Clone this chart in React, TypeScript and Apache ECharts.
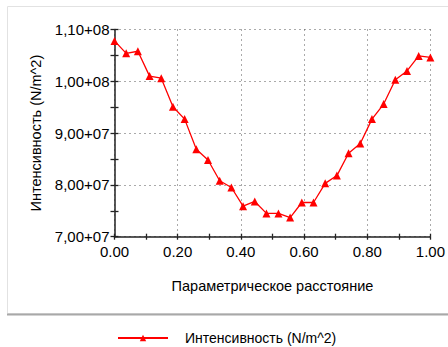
import React, { useEffect, useRef } from "react";
import * as echarts from "echarts";

const distances = [
  0, 0.037, 0.074, 0.111, 0.148, 0.185, 0.222, 0.259, 0.296, 0.333, 0.37, 0.407, 0.444, 0.481,
  0.519, 0.556, 0.593, 0.63, 0.667, 0.704, 0.741, 0.778, 0.815, 0.852, 0.889, 0.926, 0.963, 1.0,
];
const intensity = [
  107.8e6, 105.4e6, 105.8e6, 101.0e6, 100.6e6, 95.1e6, 92.7e6, 86.9e6, 84.8e6, 80.8e6, 79.5e6,
  75.9e6, 76.8e6, 74.5e6, 74.5e6, 73.7e6, 76.6e6, 76.6e6, 80.3e6, 81.8e6, 86.1e6, 88.0e6, 92.7e6,
  95.6e6, 100.3e6, 102.0e6, 104.9e6, 104.6e6,
];
const seriesName = "Интенсивность (N/m^2)";
const xTitle = "Параметрическое расстояние";
const yTitle = "Интенсивность (N/m^2)";

const FONT = "'Liberation Sans', Arial, sans-serif";

function fmtY(v: number): string {
  const exp = Math.floor(Math.log10(v) + 1e-9);
  const m = v / Math.pow(10, exp);
  return m.toFixed(2).replace(".", ",") + "+" + String(exp).padStart(2, "0");
}

export default function App() {
  const ref = useRef<HTMLDivElement>(null);
  useEffect(() => {
    if (!ref.current) return;
    const chart = echarts.init(ref.current, undefined, { renderer: "svg" });
    const tickStyle = { color: "#222", width: 1.3 };
    chart.setOption({
      animation: false,
      backgroundColor: "#fff",
      graphic: [
        {
          type: "rect",
          z: -10,
          shape: { x: 7.5, y: 6.5, width: 445, height: 307 },
          style: { fill: "#fff", stroke: "#e2e2e2", lineWidth: 1 },
        },
        {
          type: "line",
          z: -9,
          shape: { x1: 7, y1: 314.5, x2: 448, y2: 314.5 },
          style: { stroke: "#a8a8a8", lineWidth: 2 },
        },
      ],
      grid: { left: 114.5, right: 16.7, top: 29.5, bottom: 110.3, containLabel: false },
      legend: {
        data: [seriesName],
        left: 112,
        top: 326,
        itemWidth: 50,
        itemHeight: 8,
        textStyle: { fontFamily: FONT, fontSize: 14, color: "#000", padding: [0, 0, 0, 12] },
      },
      xAxis: [
        {
          type: "value",
          min: 0,
          max: 1,
          interval: 0.2,
          position: "bottom",
          name: xTitle,
          nameLocation: "middle",
          nameGap: 42,
          nameTextStyle: { fontFamily: FONT, fontSize: 14.5, color: "#000" },
          axisLine: { show: true, onZero: false, lineStyle: { color: "#222", width: 1.5 } },
          axisTick: { show: true, length: 3, lineStyle: tickStyle },
          minorTick: { show: true, splitNumber: 2, length: 3, lineStyle: tickStyle },
          axisLabel: {
            fontFamily: FONT,
            fontSize: 15,
            color: "#000",
            margin: 7,
            formatter: (v: number) => v.toFixed(2),
          },
          splitLine: { show: true, lineStyle: { color: "#555", width: 1, type: [1, 4] } },
        },
        {
          type: "value",
          min: 0,
          max: 1,
          interval: 0.2,
          position: "bottom",
          offset: 0,
          axisLine: { show: false },
          axisTick: { show: true, inside: true, length: 3, lineStyle: tickStyle },
          minorTick: { show: true, splitNumber: 2, length: 3, lineStyle: tickStyle },
          axisLabel: { show: false },
          splitLine: { show: false },
        },
      ],
      yAxis: [
        {
          type: "value",
          min: 70000000,
          max: 110000000,
          interval: 10000000,
          position: "left",
          name: yTitle,
          nameLocation: "middle",
          nameRotate: 90,
          nameGap: 71,
          nameTextStyle: { fontFamily: FONT, fontSize: 14.5, color: "#000" },
          axisLine: { show: true, onZero: false, lineStyle: { color: "#222", width: 1.5 } },
          axisTick: { show: true, length: 4, lineStyle: tickStyle },
          minorTick: { show: true, splitNumber: 2, length: 4, lineStyle: tickStyle },
          axisLabel: { fontFamily: FONT, fontSize: 15, color: "#000", margin: 5, formatter: fmtY },
          splitLine: { show: true, lineStyle: { color: "#555", width: 1, type: [1, 4] } },
        },
        {
          type: "value",
          min: 70000000,
          max: 110000000,
          interval: 10000000,
          position: "left",
          offset: 0,
          axisLine: { show: false },
          axisTick: { show: true, inside: true, length: 4, lineStyle: tickStyle },
          minorTick: { show: true, splitNumber: 2, length: 4, lineStyle: tickStyle },
          axisLabel: { show: false },
          splitLine: { show: false },
        },
      ],
      series: [
        {
          name: seriesName,
          type: "line",
          xAxisIndex: 0,
          yAxisIndex: 0,
          data: distances.map((d, i) => [d, intensity[i]]),
          symbol: "triangle",
          symbolSize: 8,
          lineStyle: { color: "#ff0000", width: 1.3 },
          itemStyle: { color: "#ff0000" },
          z: 5,
        },
      ],
    });
    return () => chart.dispose();
  }, []);
  return (
    <div
      ref={ref}
      style={{ position: "absolute", left: 0, top: 0, width: 448, height: 347 }}
    />
  );
}
